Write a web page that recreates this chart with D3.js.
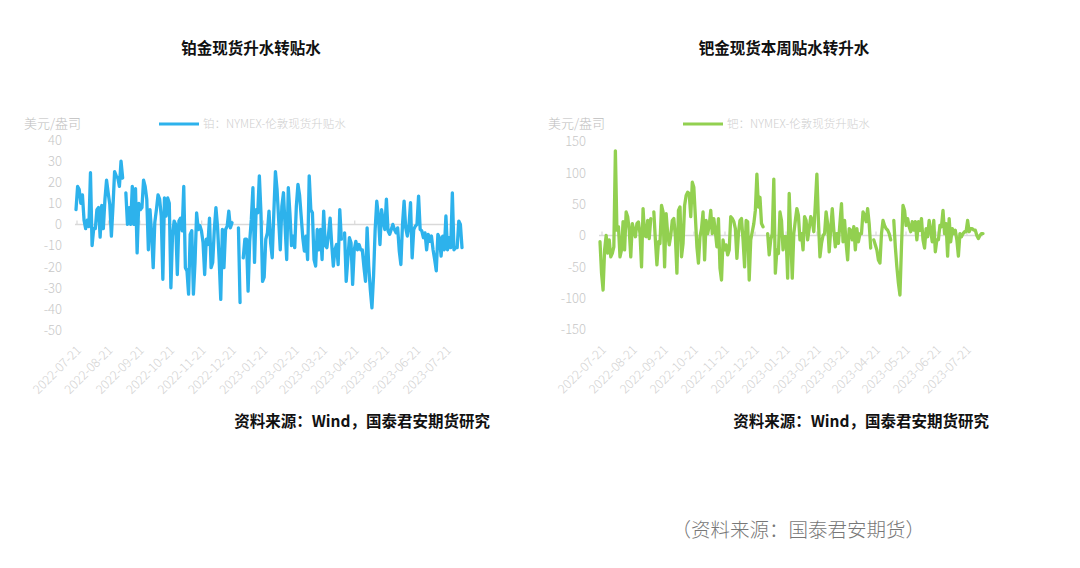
<!DOCTYPE html>
<html><head><meta charset="utf-8">
<script src="https://cdn.jsdelivr.net/npm/d3@7/dist/d3.min.js"></script>
<style>body{margin:0;background:#fff}svg{display:block}</style>
</head><body><svg id="c" width="1080" height="568"></svg>
<script>
const tickLabels = ["2022-07-21","2022-08-21","2022-09-21","2022-10-21","2022-11-21","2022-12-21","2023-01-21","2023-02-21","2023-03-21","2023-04-21","2023-05-21","2023-06-21","2023-07-21"];
const ptTicks = [-50,-40,-30,-20,-10,0,10,20,30,40];
const pdTicks = [-150,-100,-50,0,50,100,150];
const ptValues = [7,18,16.5,10,14,2,-2,2,-1,24.5,-10,-2,-2,7,8,-6,9,-2,12,21,15,9.5,-5.5,8.7,25,23,22,18,30,22,null,15,0,8,0,18,0,17,-13.5,10,7,8,21,18,12,-12,7,-4,-20.5,1,7,14,12,4,-26,12.6,4,12.6,10,-30,-5.5,1.6,0,-23.7,1.6,3,-3,18,-20.5,-22,-33,-4.7,-3,-33,-18,5.5,-2.4,-0.5,-3,-8.7,-23.7,-7,-9.5,3,-20.5,-18,-2.4,8,-1,-16.6,-35.5,-2.4,-20.5,-2.4,-0.8,6.3,-1.6,0.8,null,null,null,-1.6,-37,null,-15.8,-7,-7,-31.6,-8,2.4,17.4,-18,7,5.5,23,5.5,-27,-25,
 -7,-4,6.3,-8.7,-15.8,5.5,25,16.6,2.4,-12,8.7,15,-0.8,-16.6,17.4,5.5,-10,-5.5,-11,8.7,19,14,4,-6.3,-12.6,-5.5,-16.6,23,7,5.5,-16.6,-19.7,-2.4,-12,-2.4,-16.6,6.3,-10,-11,-4.7,3,-9.5,-19.7,-12,-9.5,-19,7,-7,null,-4,-27,-16.6,-6.3,-8.7,-28.4,-12,-8,-12,-9.5,-12,-12,-20,-27,-1.6,-19.7,-31,-39.5,-24.5,-2.4,11,4,-9.5,7,1.6,-2.4,12,-3,-4.7,-2.4,0,-2.4,-4,-1.6,-12.6,-19,0,11,-1.6,-5.5,-0.8,10.3,-15.8,-2.4,-0.8,0,13.4,-2.4,-3,-6.3,-4,-12,-4.7,-8,-5.5,-12,-16.6,-22,-4.7,-6.3,-15,-5.5,-12,4,-12,-6.3,-11,15,-12,-11,-11,1.6,0,-11];
const pdValues = [-10,-60,-87,-23,0,-28,-7,-34,-28.6,-18,135,8.5,14,-34,-23,22,-23,37.6,30,8.5,-34,19,8.5,-2,19,21.7,3,-50,43,0,-2,24,-5,27,null,37.6,-7,-47,-10,-12.7,48,37.6,-50,35,3,-15,0,24,27,-2,-60,40,45.5,-34,-12.7,48,64,69,67,30,85,77,30,-18,-44,-2,11,37.6,-39,24,3,16,40,3,27,6,-18,27,-52,-71,-7,-23,-15,-31,-23,30,27,22,11,-36.5,3,24,27,-7,-50,24,22,-71,-7,6,19,40,98,45.5,61,19,14,null,null,3,-31,-7,3,90,-60,-23,-28.6,37.6,24,-23,-2,-2,-68,67,-2,-68,3,24,43,
 32,-7,3,-23,30,24,-7,11,30,24,6,50,98,24,-34,-12.7,0,3,37.6,19,-26,10,43,8.5,-18,3,-12.7,20,51,-10,24,-12,-39,11,8.5,-7,14,-23,11,-10,3,3,37.6,32,22,43,19,-20,null,-7,-15,-23,-39,-44,3,24,16,11,8.5,3,-7,null,24,-18,-50,-76,-95,-18,48,40,16,27,14,6,22,8.5,22,-7,22,8,27,-7,-20,11,-2,24,8,-10,24,-26,-7,-7,16,14,40,3,19,-33,27,-10,11,3,8.5,-7,-33,3,-2,3,6,6,24,6,11,11,8.5,8.5,0,-5,0,3,3];
const titles = ["铂金现货升水转贴水","钯金现货本周贴水转升水"];
const legends = ["铂：NYMEX-伦敦现货升贴水","钯：NYMEX-伦敦现货升贴水"];
const unitText = "美元/盎司";
const sourceText = "资料来源：Wind，国泰君安期货研究";
const footText = "（资料来源：国泰君安期货）";

const FONT = "'Noto Sans CJK SC','Noto Sans',sans-serif";
const svg = d3.select("#c");
svg.append("rect").attr("width",1080).attr("height",568).attr("fill","#fff");
const parse = d3.timeParse("%Y-%m-%d");

const panels = [
  {values: ptValues, ticks: ptTicks, color: "#2DB2EC", title: titles[0], legend: legends[0],
   x0: 76, x1: 462, t0: 77, t1: 447, yTop: 140, yBot: 330, yLabX: 62, unitX: 24, legX: 159, titleX: 251, srcX: 490},
  {values: pdValues, ticks: pdTicks, color: "#92D050", title: titles[1], legend: legends[1],
   x0: 600, x1: 983, t0: 602, t1: 967, yTop: 141.5, yBot: 329.5, yLabX: 586, unitX: 548, legX: 683, titleX: 784, srcX: 989}
];

panels.forEach(p => {
  const g = svg.append("g");
  const y = d3.scaleLinear().domain(d3.extent(p.ticks)).range([p.yBot, p.yTop]);
  const xi = d3.scaleLinear().domain([0, p.values.length - 1]).range([p.x0, p.x1]);
  const xt = d3.scaleTime().domain([parse(tickLabels[0]), parse(tickLabels[tickLabels.length-1])]).range([p.t0, p.t1]);

  g.append("text").attr("x", p.titleX).attr("y", 54).attr("text-anchor","middle")
    .attr("font-family", FONT).attr("font-weight", "bold").attr("font-size", 15.5).attr("fill","#111").text(p.title);

  g.append("text").attr("x", p.unitX).attr("y", 128).attr("font-family", FONT).attr("font-weight",300)
    .attr("font-size", 13).attr("fill","#bdbdbd").text(unitText);

  g.append("line").attr("x1", p.legX).attr("x2", p.legX + 40).attr("y1", 124).attr("y2", 124)
    .attr("stroke", p.color).attr("stroke-width", 3.2);
  g.append("text").attr("x", p.legX + 44).attr("y", 128).attr("font-family", FONT).attr("font-weight",300)
    .attr("font-size", 11.5).attr("fill","#cfcfcf").text(p.legend);

  g.selectAll(".yl").data(p.ticks).join("text")
    .attr("x", p.yLabX).attr("y", d => y(d)).attr("dy","0.38em").attr("text-anchor","end")
    .attr("font-family", FONT).attr("font-weight",300).attr("font-size", 13).attr("fill","#c8c8c8")
    .text(d => d);

  g.append("line").attr("x1", p.x0 - 1).attr("x2", p.x1).attr("y1", y(0)).attr("y2", y(0))
    .attr("stroke","#d9d9d9").attr("stroke-width",1.5);
  g.selectAll(".tk").data(tickLabels).join("line")
    .attr("x1", d => xt(parse(d))).attr("x2", d => xt(parse(d)))
    .attr("y1", y(0)).attr("y2", y(0) - 4).attr("stroke","#d9d9d9").attr("stroke-width",1.2);

  g.selectAll(".xl").data(tickLabels).join("text")
    .attr("transform", d => `translate(${xt(parse(d)) + 5},${p.yBot + 21}) rotate(-45)`)
    .attr("text-anchor","end").attr("font-family", FONT).attr("font-weight",300)
    .attr("font-size", 12.5).attr("fill","#d2d2d2").text(d => d);

  const line = d3.line().defined(d => d != null).x((d,i) => xi(i)).y(d => y(d));
  g.append("path").datum(p.values).attr("d", line).attr("fill","none")
    .attr("stroke", p.color).attr("stroke-width", 3.3).attr("stroke-linejoin","round").attr("stroke-linecap","round");

  g.append("text").attr("x", p.srcX).attr("y", 427).attr("text-anchor","end")
    .attr("font-family", FONT).attr("font-weight","bold").attr("font-size", 15.5).attr("fill","#111").text(sourceText);
});

svg.append("text").attr("x", 925).attr("y", 537).attr("text-anchor","end")
  .attr("font-family", FONT).attr("font-weight",300).attr("font-size", 19.5).attr("fill","#777").text(footText);
</script></body></html>
